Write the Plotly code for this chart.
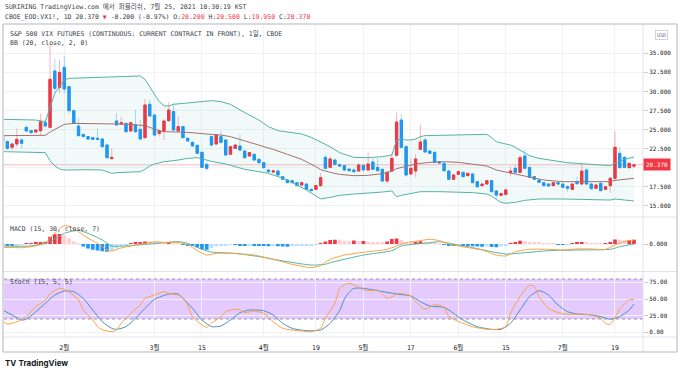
import plotly.graph_objects as go
import pandas as pd

# ---------------- data ----------------
HOLIDAYS = ['2021-01-18', '2021-02-15', '2021-04-02', '2021-05-31', '2021-07-05']
dates = [d.strftime('%Y-%m-%d') for d in
         pd.bdate_range('2021-01-12', '2021-07-23', freq='C', holidays=HOLIDAYS)]

open_ = [24.15, 23.41, 22.67, 23.10, 23.63, 25.29, 24.85, 24.68, 24.85, 25.90, 25.29, 32.68, 30.50,
         33.16, 30.63, 27.48, 25.46, 24.37, 24.07, 23.93, 23.85, 23.76, 22.97, 21.18, 26.12, 25.73, 25.81, 24.81, 25.60, 25.03, 23.93, 28.31,
         26.91, 24.50, 24.81, 26.16, 27.35, 24.81, 25.38, 23.85, 23.32, 22.93, 22.01, 20.43, 24.07, 23.10, 24.07, 23.63, 21.75, 22.53, 22.84, 22.18, 21.53, 21.75, 21.09,
         20.65, 19.69, 19.43, 19.56, 18.82, 18.38, 18.29, 18.03, 17.72, 17.85, 17.15, 17.15, 17.64, 21.35, 20.04, 21.00, 20.39, 20.26, 19.82, 19.69, 19.56,
         20.30, 19.69, 20.74, 20.04, 19.78, 18.25, 19.56, 21.62, 26.25, 22.75, 19.17, 19.56, 22.40, 23.63, 22.18, 22.01, 20.78, 20.57, 19.56, 18.47,
         19.12, 19.38, 18.95, 19.17, 18.16, 17.64, 17.85, 18.29, 16.94, 16.37, 16.50, 19.34, 19.91, 19.38, 21.53, 20.04, 18.82, 18.38, 18.03, 17.85, 17.64, 18.03,
         17.85, 17.50, 17.15, 18.16, 17.85, 19.69, 17.85, 17.29, 17.94, 17.15, 17.64, 18.60, 21.88, 21.35, 20.00, 20.20]
high = [24.40, 23.63, 23.28, 25.16, 23.85, 25.46, 24.95, 25.00, 27.04, 26.34, 36.09, 34.34, 34.13,
        34.65, 30.70, 27.60, 26.47, 24.45, 24.15, 24.00, 25.16, 23.85, 23.19, 22.53, 27.13, 26.69, 25.90, 26.00, 27.57, 26.25, 29.01, 28.88,
        27.00, 25.03, 26.34, 28.57, 28.44, 26.69, 25.50, 23.95, 23.45, 23.00, 22.10, 20.78, 24.20, 24.40, 24.85, 23.70, 22.85, 23.05, 24.37, 22.25, 22.05, 21.85, 21.15,
        20.75, 19.75, 19.78, 19.65, 18.90, 18.45, 18.35, 18.10, 18.10, 17.95, 17.20, 17.75, 19.25, 21.66, 21.44, 21.10, 20.50, 20.35, 19.90, 20.00, 20.65,
        20.40, 22.01, 21.22, 21.22, 19.85, 19.56, 21.88, 27.21, 27.04, 22.97, 21.22, 21.75, 25.68, 23.93, 22.25, 22.10, 20.85, 20.65, 19.65, 19.15,
        19.55, 19.45, 19.35, 19.25, 18.25, 17.95, 18.40, 18.35, 17.07, 16.70, 17.29, 20.13, 20.35, 21.66, 22.32, 20.10, 18.90, 18.45, 18.10, 17.95, 18.10, 18.10,
        17.95, 17.72, 17.95, 18.82, 20.43, 19.91, 17.95, 17.80, 18.05, 17.60, 18.82, 24.81, 22.75, 21.53, 20.60, 20.50]
low = [23.30, 22.32, 22.32, 22.75, 22.53, 24.72, 24.50, 24.60, 24.28, 25.29, 25.16, 29.75, 29.75,
       29.75, 27.13, 25.70, 24.07, 23.98, 23.70, 23.65, 23.63, 22.67, 21.22, 21.09, 25.46, 25.60, 24.60, 24.70, 24.59, 23.63, 23.85, 26.69,
       24.20, 24.07, 23.63, 26.03, 24.85, 24.72, 23.85, 23.40, 22.75, 21.80, 19.95, 19.56, 22.85, 23.00, 23.19, 21.55, 21.65, 22.45, 22.10, 21.20, 21.45, 20.90, 20.55,
       19.90, 19.40, 19.25, 18.95, 18.40, 17.95, 17.95, 17.55, 17.65, 17.05, 16.85, 17.05, 17.50, 19.82, 19.91, 20.35, 20.10, 19.60, 19.50, 19.34, 19.47,
       19.60, 19.60, 19.69, 19.51, 18.15, 17.94, 19.47, 21.44, 22.53, 18.82, 19.04, 18.73, 22.32, 21.97, 21.80, 20.60, 20.50, 19.50, 18.40, 18.40,
       19.05, 18.75, 18.85, 17.95, 17.40, 17.55, 17.80, 16.75, 15.97, 16.28, 16.28, 18.82, 19.25, 19.25, 19.78, 18.65, 18.40, 18.00, 17.55, 17.50, 17.55, 17.80,
       17.35, 16.85, 17.05, 17.72, 17.72, 17.72, 17.15, 17.20, 16.90, 17.05, 16.72, 18.38, 19.91, 19.95, 19.90, 19.95]
close = [23.41, 22.53, 23.10, 23.72, 23.19, 24.81, 24.59, 24.94, 26.03, 25.46, 31.59, 30.41, 32.51,
         30.32, 27.48, 25.81, 24.20, 24.07, 23.76, 23.72, 23.72, 22.75, 21.31, 21.35, 25.60, 25.90, 24.72, 25.90, 24.72, 23.76, 28.22, 26.78,
         24.28, 24.81, 26.12, 27.57, 24.94, 25.38, 23.93, 23.50, 22.84, 21.88, 20.04, 19.91, 22.97, 24.28, 23.32, 21.66, 22.75, 22.97, 22.32, 21.31, 21.97, 21.00, 20.65,
         20.00, 19.47, 19.56, 19.04, 18.47, 18.03, 18.03, 17.64, 18.03, 17.15, 16.98, 17.64, 18.69, 19.91, 21.14, 20.43, 20.22, 19.69, 19.60, 19.47, 20.35,
         19.69, 20.48, 19.78, 19.60, 18.25, 19.38, 21.22, 25.99, 22.67, 19.04, 19.91, 21.14, 23.37, 22.05, 21.88, 20.70, 20.61, 19.60, 18.47, 19.04,
         19.47, 18.82, 19.25, 18.03, 17.50, 17.85, 18.29, 16.85, 16.41, 16.59, 17.07, 19.56, 19.38, 21.31, 19.91, 18.73, 18.47, 18.07, 17.64, 17.59, 18.03, 17.85,
         17.42, 17.29, 17.85, 17.90, 19.56, 17.85, 17.24, 17.72, 16.98, 17.50, 18.60, 22.67, 20.00, 20.04, 20.57, 20.37]

# Bollinger Bands (20, close, 2) read at bar positions (index into dates)
bb_up_pos = [0, 7, 9, 10, 11, 12, 13, 14, 18, 23, 29, 30, 31, 32, 33, 34, 35, 36, 38, 42, 44, 46, 48, 50, 52, 54, 56, 58, 61, 63, 65, 67, 69, 71, 74, 77, 80, 82, 83, 84, 85, 86, 87, 88, 89, 95, 102, 103, 104, 106, 107, 108, 109, 110, 111, 113, 116, 119, 123, 127, 128, 129, 130, 131, 133]
bb_up = [26.34, 26.25, 26.03, 27.78, 29.75, 30.63, 31.50, 31.72, 31.81, 31.94, 32.03, 31.59, 30.63, 29.53, 28.66, 28.13, 28.09, 28.31, 28.44, 28.75, 28.79, 28.66, 28.31, 27.57, 26.91, 26.25, 25.38, 24.85, 24.59, 24.42, 23.98, 23.41, 22.75, 21.97, 21.35, 21.31, 21.44, 21.66, 23.63, 23.76, 23.63, 23.63, 23.76, 24.07, 24.20, 24.28, 24.37, 23.93, 23.41, 23.10, 22.97, 22.67, 22.32, 21.88, 21.57, 21.22, 20.92, 20.65, 20.48, 20.35, 20.26, 20.57, 20.87, 21.09, 21.40]
bb_mid_pos = [0, 8, 9, 10, 11, 12, 13, 15, 21, 24, 27, 30, 31, 32, 33, 34, 36, 39, 43, 46, 48, 51, 54, 57, 60, 63, 66, 67, 69, 71, 74, 77, 80, 82, 83, 85, 87, 90, 93, 96, 99, 102, 104, 107, 110, 114, 118, 123, 128, 129, 133]
bb_mid = [24.20, 24.20, 24.24, 24.68, 25.03, 25.38, 25.68, 25.81, 25.81, 25.73, 25.68, 25.51, 25.29, 25.03, 24.85, 24.72, 24.72, 24.63, 24.42, 24.28, 24.07, 23.54, 22.97, 22.40, 21.75, 21.09, 20.13, 19.75, 19.38, 19.12, 18.95, 18.99, 19.21, 19.56, 19.87, 20.22, 20.48, 20.70, 20.78, 20.70, 20.48, 20.22, 19.69, 19.34, 18.90, 18.38, 18.16, 18.16, 18.16, 18.33, 18.60]
bb_lo_pos = [0, 8, 9, 10, 11, 12, 13, 18, 21, 22, 23, 24, 29, 30, 31, 32, 34, 37, 39, 41, 43, 44, 47, 49, 51, 54, 56, 58, 60, 62, 64, 66, 67, 69, 71, 74, 77, 80, 82, 83, 84, 86, 88, 92, 99, 102, 103, 104, 105, 106, 108, 110, 113, 118, 123, 128, 129, 133]
bb_lo = [22.10, 22.01, 21.97, 20.91, 20.22, 19.82, 19.69, 19.73, 19.69, 19.47, 19.25, 19.34, 19.47, 19.78, 20.22, 20.48, 20.78, 21.00, 21.22, 21.31, 21.00, 20.83, 20.48, 20.13, 19.78, 19.47, 19.25, 18.82, 18.38, 17.72, 17.07, 16.28, 15.90, 16.10, 16.37, 16.54, 16.63, 16.80, 16.94, 16.19, 16.37, 16.63, 16.85, 16.85, 16.72, 16.54, 16.28, 15.84, 15.45, 15.32, 15.45, 15.71, 15.89, 15.89, 15.84, 15.75, 15.89, 15.62]

# MACD (15, 30, close, 7)
macd_pos = [0, 4, 6, 9, 10, 11, 12, 13, 14, 16, 18, 20, 22, 23, 25, 27, 30, 32, 34, 37, 39, 41, 43, 45, 48, 53, 57, 61, 65, 67, 68, 69, 72, 76, 79, 81, 83, 85, 88, 90, 92, 94, 97, 101, 104, 106, 108, 111, 115, 118, 121, 124, 127, 129, 131, 133]
macd = [-0.26, -0.28, -0.21, 0.05, 0.45, 0.85, 1.20, 1.41, 1.36, 0.95, 0.45, 0.05, -0.45, -0.54, -0.30, -0.15, 0.05, 0.18, 0.12, 0.12, -0.05, -0.50, -0.85, -0.72, -0.72, -0.85, -1.18, -1.56, -1.82, -1.65, -1.40, -1.18, -0.85, -0.64, -0.51, -0.41, -0.15, 0.10, 0.26, 0.36, 0.26, 0.00, -0.21, -0.46, -0.85, -0.92, -0.59, -0.41, -0.41, -0.46, -0.38, -0.38, -0.41, -0.08, 0.18, 0.32]
signal_pos = [0, 6, 10, 13, 16, 18, 21, 23, 26, 31, 37, 39, 42, 44, 49, 54, 60, 65, 68, 69, 72, 76, 82, 84, 90, 92, 96, 99, 103, 106, 110, 115, 122, 128, 130, 133]
signal = [-0.15, -0.15, 0.18, 0.82, 1.05, 0.82, 0.31, -0.15, -0.15, 0.00, 0.18, 0.05, -0.41, -0.62, -0.72, -0.97, -1.36, -1.62, -1.56, -1.44, -1.18, -0.85, -0.51, -0.15, 0.10, 0.18, -0.08, -0.28, -0.59, -0.77, -0.67, -0.51, -0.46, -0.41, -0.21, 0.00]
hist = [-0.05, -0.08, -0.10, -0.08, -0.05,
        0.05, 0.06, 0.08, 0.15, 0.18,
        0.55, 0.75, 0.77, 0.68, 0.45, 0.20, 0.05,
        -0.20, -0.35, -0.45, -0.50, -0.55, -0.60, -0.52,
        -0.35, -0.15, -0.08,
        0.05, 0.08, 0.10, 0.20, 0.18, 0.15, 0.10, 0.08, 0.10, 0.09, 0.05,
        -0.02, -0.10, -0.15, -0.25, -0.40, -0.45,
        -0.30, -0.20, -0.12, -0.10, -0.05,
        -0.06, -0.08, -0.10, -0.10, -0.12, -0.13, -0.15, -0.17, -0.17, -0.18, -0.20, -0.21,
        -0.18, -0.15, -0.12, -0.10, -0.08, -0.05,
        0.05, 0.20, 0.30,
        0.32, 0.28, 0.25, 0.22, 0.26, 0.22, 0.24, 0.18, 0.15, 0.10, 0.08, 0.20,
        0.38, 0.42, 0.30, 0.15, 0.12, 0.15, 0.22,
        0.18, 0.15, 0.08, 0.02,
        -0.05, -0.10, -0.12, -0.06, -0.08, -0.15, -0.18, -0.20, -0.22, -0.20, -0.24, -0.25, -0.20, -0.10,
        0.05, 0.15, 0.25, 0.22,
        0.15, 0.10, 0.08, 0.05, 0.03, 0.02, -0.02, -0.03, -0.02, 0.05,
        0.10, 0.12, 0.08, 0.05, 0.04, 0.03, 0.04,
        0.15, 0.35, 0.32, 0.28, 0.30, 0.32]

# Stoch (15, 5, 5)
k_pos = [0, 1, 4, 5, 7, 9, 10, 11, 12, 13, 14, 16, 17, 19, 20, 21, 23, 24, 25, 27, 29, 30, 32, 34, 35, 37, 38, 39, 40, 42, 43, 44, 46, 47, 49, 50, 51, 53, 55, 57, 59, 63, 65, 67, 68, 70, 71, 72, 73, 75, 76, 78, 79, 80, 81, 82, 83, 84, 86, 87, 89, 90, 91, 93, 94, 97, 99, 102, 104, 106, 107, 109, 111, 112, 113, 115, 117, 119, 122, 124, 126, 127, 128, 129, 130, 132, 133]
k_val = [17, 12.5, 18.5, 23.5, 38.5, 48.5, 57.5, 62.5, 66, 64.5, 61, 48.5, 33.5, 18.5, 9, 4, 1, 3.5, 13.5, 28.5, 41, 51, 56, 61, 58.5, 56, 51, 41, 23.5, 11, 7.5, 13.5, 23.5, 31, 34.5, 33.5, 29.5, 32, 28.5, 16, 6, 2, 1, 6, 21, 43.5, 66, 71, 73.5, 68.5, 63.5, 62.5, 63.5, 58, 51, 53, 57.5, 58.5, 54.5, 46, 34.5, 37.5, 42, 37.5, 23.5, 13.5, 8.5, 4.5, 4.5, 8.5, 28.5, 53.5, 71, 68.5, 53.5, 36, 29.5, 27, 27.5, 26, 21, 13.5, 12, 22, 35, 48.5, 49.5]
d_pos = [0, 2, 4, 5, 7, 9, 11, 13, 15, 17, 19, 21, 23, 24, 26, 28, 30, 32, 35, 37, 38, 40, 42, 44, 46, 48, 50, 52, 55, 57, 59, 61, 64, 67, 69, 71, 72, 73, 74, 76, 79, 83, 86, 88, 90, 93, 95, 97, 100, 103, 105, 107, 109, 111, 113, 115, 117, 119, 121, 124, 126, 128, 130, 132, 133]
d_val = [33.5, 26, 18.5, 19.5, 31, 43.5, 56, 62, 61, 51, 33.5, 16, 6, 4.5, 8.5, 21, 36, 49.5, 57.5, 57.5, 51, 36, 18.5, 8.5, 9.5, 18.5, 29.5, 33.5, 32.5, 26, 13.5, 6, 2.5, 3.5, 13.5, 32.5, 50, 60, 66, 66, 62.5, 57.5, 54.5, 46, 39.5, 37.5, 28.5, 18.5, 8.5, 4.5, 4.5, 13.5, 33.5, 53.5, 62.5, 56, 41, 31, 27.5, 26, 23.5, 19.5, 23.5, 33.5, 42.5]

tick_dates = ['2021-02-01', '2021-03-01', '2021-03-15', '2021-04-01', '2021-04-19', '2021-05-03',
              '2021-05-17', '2021-06-01', '2021-06-15', '2021-07-01', '2021-07-19']
tick_text = ['2월', '3월', '15', '4월', '19', '5월', '17', '6월', '15', '7월', '19']
# 20.000 is hidden behind the last-price label in the reference
price_ticks = [15, 17.5, 22.5, 25, 27.5, 30, 32.5, 35]
last_price = 20.37

assert len(dates) == len(open_) == len(high) == len(low) == len(close) == len(hist) == 134

# ---------------- styling ----------------
UP, DN = '#f23645', '#2196f3'
UP_W, DN_W = 'rgba(242,54,69,0.38)', 'rgba(33,150,243,0.38)'
TEAL, BASIS = '#54b3a3', '#a3716d'
ORANGE, BLUE = '#f9a33e', '#4a8fc6'
FONT = 'DejaVu Sans Mono, Noto Sans CJK KR'
GRID = '#f0f2f6'

W, H = 680, 374
ML, MR, MT, MB = 4, 37, 24, 37
PW, PH = W - ML - MR, H - MT - MB


def px(xp):
    return (xp - ML) / PW


def py(yp):
    return (H - MB - yp) / PH


P_BOT, M_BOT = py(217), py(271.5)

fig = go.Figure()

# candles: light wick layer then solid body layer
fig.add_trace(go.Candlestick(
    x=dates, open=open_, high=high, low=low, close=close, whiskerwidth=0,
    increasing=dict(line=dict(color=UP_W, width=1), fillcolor=UP_W),
    decreasing=dict(line=dict(color=DN_W, width=1), fillcolor=DN_W),
    hoverinfo='skip', xaxis='x', yaxis='y'))
body_hi = [max(o, c) for o, c in zip(open_, close)]
body_lo = [min(o, c) for o, c in zip(open_, close)]
fig.add_trace(go.Candlestick(
    x=dates, open=open_, high=body_hi, low=body_lo, close=close, whiskerwidth=0,
    increasing=dict(line=dict(color=UP, width=1), fillcolor=UP),
    decreasing=dict(line=dict(color=DN, width=1), fillcolor=DN),
    xaxis='x', yaxis='y'))

# Bollinger bands
fig.add_trace(go.Scatter(x=[dates[i] for i in bb_up_pos], y=bb_up, mode='lines',
                         line=dict(color=TEAL, width=1), xaxis='x', yaxis='y'))
fig.add_trace(go.Scatter(x=[dates[i] for i in bb_lo_pos], y=bb_lo, mode='lines',
                         line=dict(color=TEAL, width=1), fill='tonexty',
                         fillcolor='rgba(38,166,154,0.06)', xaxis='x', yaxis='y'))
fig.add_trace(go.Scatter(x=[dates[i] for i in bb_mid_pos], y=bb_mid, mode='lines',
                         line=dict(color=BASIS, width=1), xaxis='x', yaxis='y'))

# MACD histogram colours
hcol = []
for j, v in enumerate(hist):
    prev = hist[j - 1] if j > 0 else v
    if v >= 0:
        hcol.append(UP if v >= prev else '#ffcdd2')
    else:
        hcol.append(DN if v < prev else '#bbdefb')
fig.add_trace(go.Bar(x=dates, y=hist, marker=dict(color=hcol, line=dict(width=0)),
                     xaxis='x2', yaxis='y2'))
fig.add_trace(go.Scatter(x=[dates[i] for i in signal_pos], y=signal, mode='lines',
                         line=dict(color=TEAL, width=1, shape='spline', smoothing=0.6),
                         xaxis='x2', yaxis='y2'))
fig.add_trace(go.Scatter(x=[dates[i] for i in macd_pos], y=macd, mode='lines',
                         line=dict(color=ORANGE, width=1, shape='spline', smoothing=0.6),
                         xaxis='x2', yaxis='y2'))

# Stoch
fig.add_trace(go.Scatter(x=[dates[i] for i in d_pos], y=d_val, mode='lines',
                         line=dict(color=BLUE, width=1, shape='spline', smoothing=0.6),
                         xaxis='x3', yaxis='y3'))
fig.add_trace(go.Scatter(x=[dates[i] for i in k_pos], y=k_val, mode='lines',
                         line=dict(color=ORANGE, width=1, shape='spline', smoothing=0.6),
                         xaxis='x3', yaxis='y3'))

xcommon = dict(type='category', categoryorder='array', categoryarray=dates,
               range=[0.3, 134.9], tickvals=tick_dates, ticktext=tick_text,
               showgrid=True, gridcolor=GRID, gridwidth=1, zeroline=False, showline=False,
               fixedrange=True)
ycommon = dict(side='right', showgrid=True, gridcolor=GRID, zeroline=False, showline=False,
               ticks='outside', ticklen=4, tickcolor='#c9ccd3',
               tickfont=dict(family=FONT, size=6, color='#131722'), fixedrange=True)

fig.update_layout(
    width=W, height=H, autosize=False, margin=dict(l=ML, r=MR, t=MT, b=MB),
    paper_bgcolor='white', plot_bgcolor='white', showlegend=False, bargap=0.22,
    font=dict(family=FONT, size=6.5, color='#131722'), hovermode=False,
    xaxis=dict(xcommon, anchor='y', showticklabels=False, rangeslider=dict(visible=False)),
    xaxis2=dict(xcommon, anchor='y2', matches='x', showticklabels=False),
    xaxis3=dict(xcommon, anchor='y3', matches='x', showticklabels=True,
                ticks='outside', ticklen=4, tickcolor='rgba(0,0,0,0)',
                tickfont=dict(family=FONT, size=6.5, color='#131722')),
    yaxis=dict(ycommon, domain=[P_BOT, 1], anchor='x', range=[13.525, 38.85],
               tickvals=price_ticks, tickformat='.3f'),
    yaxis2=dict(ycommon, domain=[M_BOT, P_BOT], anchor='x2', range=[-2.115, 2.077],
                tickvals=[0], tickformat='.3f'),
    yaxis3=dict(ycommon, domain=[0, M_BOT], anchor='x3', range=[-7, 91.25],
                tickvals=[0, 25, 50, 75], tickformat='.2f'),
)

LINE = '#b2b5be'
SEP = '#e0e3eb'
shapes = [
    # stoch band
    dict(type='rect', xref='x3 domain', yref='y3', x0=0, x1=1, y0=20, y1=80,
         fillcolor='rgba(150,50,250,0.26)', line=dict(width=0), layer='below'),
    dict(type='line', xref='x3 domain', yref='y3', x0=0, x1=1, y0=80, y1=80,
         line=dict(color='#9598a1', width=1, dash='dot')),
    dict(type='line', xref='x3 domain', yref='y3', x0=0, x1=1, y0=20, y1=20,
         line=dict(color='#9598a1', width=1, dash='dot')),
    # price-pane gridline under the last-price label
    dict(type='line', xref='x domain', yref='y', x0=0, x1=1, y0=20, y1=20,
         line=dict(color=GRID, width=1), layer='below'),
    # last price line
    dict(type='line', xref='x domain', yref='y', x0=0, x1=1, y0=last_price, y1=last_price,
         line=dict(color='rgba(242,54,69,0.35)', width=1), layer='below'),
    # pane separators
    dict(type='line', xref='paper', yref='paper', x0=px(3), x1=px(677), y0=P_BOT, y1=P_BOT,
         line=dict(color=SEP, width=1)),
    dict(type='line', xref='paper', yref='paper', x0=px(3), x1=px(677), y0=M_BOT, y1=M_BOT,
         line=dict(color=SEP, width=1)),
    dict(type='line', xref='paper', yref='paper', x0=px(3), x1=px(677), y0=0, y1=0,
         line=dict(color=SEP, width=1)),
    # price-scale divider
    dict(type='line', xref='paper', yref='paper', x0=1, x1=1, y0=py(352), y1=1,
         line=dict(color=SEP, width=1)),
    # outer frame
    dict(type='rect', xref='paper', yref='paper', x0=px(3), x1=px(677), y0=py(352), y1=1,
         line=dict(color=LINE, width=1), fillcolor='rgba(0,0,0,0)'),
]
fig.update_layout(shapes=shapes)

RED = '#f23645'


def red(t):
    return f'<span style="color:{RED}">{t}</span>'


header2 = ('CBOE_EOD:VX1!, 1D 20.370 ' + red('▼') + ' -0.200 (-0.97%) O:' + red('20.200') +
           ' H:' + red('20.500') + ' L:' + red('19.950') + ' C:' + red('20.370'))
ann = [
    dict(x=px(3), y=py(6.7), text='SURIRING TradingView.com 에서 퍼블리쉬, 7월 25, 2021 10:30:19 KST',
         font=dict(size=6.5, color='#3b3f4a')),
    dict(x=px(3), y=py(17), text=header2, font=dict(size=6.5, color='#3b3f4a')),
    dict(x=px(8), y=py(34), text='S&amp;P 500 VIX FUTURES (CONTINUOUS: CURRENT CONTRACT IN FRONT), 1일, CBOE',
         font=dict(size=6.5, color='#3b3f4a')),
    dict(x=px(8), y=py(43.5), text='BB (20, close, 2, 0)', font=dict(size=6.5, color='#3b3f4a')),
    dict(x=px(8), y=py(229.5), text='MACD (15, 30, close, 7)', font=dict(size=6.5, color='#3b3f4a')),
    dict(x=px(8), y=py(282), text='Stoch (15, 5, 5)', font=dict(size=6.5, color='#3b3f4a')),
    dict(x=px(3), y=py(363), text='<b>TV</b> <b>TradingView</b>',
         font=dict(family='Inter, Noto Sans', size=8, color='#131722')),
]
for a in ann:
    a.update(xref='paper', yref='paper', xanchor='left', yanchor='middle', showarrow=False)
ann.append(dict(x=px(661), y=py(35), xref='paper', yref='paper', text='USD', showarrow=False,
                font=dict(size=5, color='#6a6d78'), bordercolor='#d1d4dc', borderwidth=1, borderpad=1,
                xanchor='center', yanchor='middle'))
ann.append(dict(x=1, y=last_price, xref='paper', yref='y', text='20.370', showarrow=False,
                xanchor='left', yanchor='middle', bgcolor=RED, borderpad=2,
                font=dict(size=6, color='white', family=FONT)))
fig.update_layout(annotations=ann)

fig.write_html('out.html', include_plotlyjs=True, config={'displayModeBar': False},
               post_script="document.body.style.margin='0px';")
